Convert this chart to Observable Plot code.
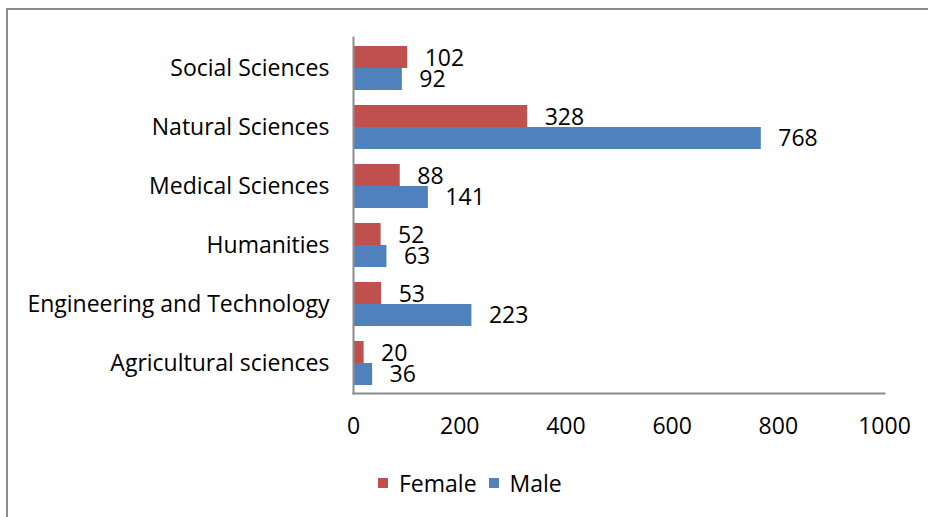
<!DOCTYPE html>
<html>
<head>
<meta charset="utf-8">
<script src="https://cdn.jsdelivr.net/npm/d3@7"></script>
<script src="https://cdn.jsdelivr.net/npm/@observablehq/plot@0.6"></script>
<style>
  html, body { margin: 0; padding: 0; background: #fff; overflow: hidden; width: 928px; height: 517px; }
  #wrap { position: relative; width: 928px; height: 517px; font-family: "Open Sans", sans-serif; }
  #border { position: absolute; left: 6px; top: 8px; width: 1000px; height: 600px; border: 2px solid #8c8c8c; pointer-events: none; }
  #chart { position: absolute; left: 0; top: 0; }
  #legend { position: absolute; top: 467px; left: 378px; display: flex; align-items: center; font-size: 23px; color: #000; }
  .sw { width: 10px; height: 10px; display: inline-block; margin-right: 11px; }
  .item { display: flex; align-items: center; margin-right: 12px; }
</style>
</head>
<body>
<div id="wrap">
  <div id="chart"></div>
  <div id="legend"></div>
  <div id="border"></div>
</div>
<script>
const categories = ["Social Sciences", "Natural Sciences", "Medical Sciences", "Humanities", "Engineering and Technology", "Agricultural sciences"];
const female = [102, 328, 88, 52, 53, 20];
const male = [92, 768, 141, 63, 223, 36];
const series = ["Female", "Male"];
const colors = ["#C0504D", "#4F81BD"];
const xTicks = [0, 200, 400, 600, 800, 1000];

const rows = categories.flatMap((c, i) => [
  {category: c, gender: "Female", value: female[i]},
  {category: c, gender: "Male", value: male[i]}
]);
const fRows = rows.filter(d => d.gender === "Female");
const mRows = rows.filter(d => d.gender === "Male");

const chart = Plot.plot({
  width: 928,
  height: 455,
  marginLeft: 353,
  marginRight: 44,
  marginTop: 37,
  marginBottom: 62,
  style: {fontFamily: "'Open Sans', sans-serif", fontSize: "23px", color: "#000", background: "transparent"},
  x: {domain: [0, 1000], ticks: xTicks, label: null, tickSize: 0, tickPadding: 24, tickFormat: d => String(d)},
  y: {domain: categories, label: null, tickSize: 0, tickPadding: 24, paddingInner: 0.26, paddingOuter: 0.13},
  color: {domain: series, range: colors},
  marks: [
    Plot.barX(fRows, {x: "value", y: "category", fill: colors[0], insetBottom: 22, insetTop: 0}),
    Plot.barX(mRows, {x: "value", y: "category", fill: colors[1], insetTop: 22, insetBottom: 0}),
    Plot.text(fRows, {x: "value", y: "category", text: d => String(d.value), dx: 17, dy: -10, textAnchor: "start", fontSize: 23, fill: "#000"}),
    Plot.text(mRows, {x: "value", y: "category", text: d => String(d.value), dx: 17, dy: 11, textAnchor: "start", fontSize: 23, fill: "#000"}),
    Plot.frame({anchor: "left", stroke: "#8c8c8c", strokeWidth: 2}),
    Plot.frame({anchor: "bottom", stroke: "#8c8c8c", strokeWidth: 2})
  ]
});
document.getElementById("chart").appendChild(chart);

const legend = document.getElementById("legend");
series.forEach((s, i) => {
  const item = document.createElement("div");
  item.className = "item";
  const sw = document.createElement("span");
  sw.className = "sw";
  sw.style.background = colors[i];
  item.appendChild(sw);
  item.appendChild(document.createTextNode(s));
  legend.appendChild(item);
});
</script>
</body>
</html>
